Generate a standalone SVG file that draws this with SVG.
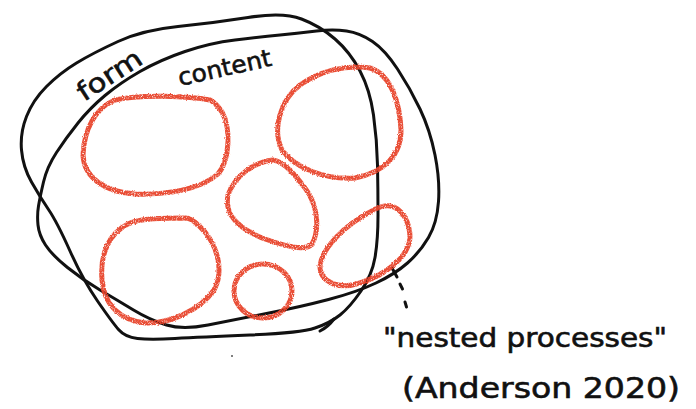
<svg xmlns="http://www.w3.org/2000/svg" width="696" height="409" viewBox="0 0 696 409">
  <style>
    .ink { fill: none; stroke: #111111; stroke-width: 3; stroke-linecap: round; stroke-linejoin: round; }
    .pencil { fill: none; stroke: #e8442b; stroke-width: 5; stroke-linecap: round; stroke-linejoin: round; opacity: 0.95; }
    .hand { font-family: "DejaVu Sans", "Liberation Sans", sans-serif; fill: #111111; stroke: #111111; stroke-width: 0.6; }
  </style>
  <defs>
    <filter id="grain" x="-5%" y="-5%" width="110%" height="110%">
      <feTurbulence type="fractalNoise" baseFrequency="0.9" numOctaves="2" seed="3" result="noise"/>
      <feDisplacementMap in="SourceGraphic" in2="noise" scale="2.5" xChannelSelector="R" yChannelSelector="G" result="rough"/>
      <feColorMatrix in="noise" type="matrix" values="0 0 0 0 0  0 0 0 0 0  0 0 0 0 0  3 0 0 0 -0.45" result="mask"/>
      <feComposite in="rough" in2="mask" operator="in"/>
    </filter>
  </defs>
  <rect width="696" height="409" fill="#ffffff"/>

  <g id="form-loop">
    <path class="ink" d="M315,328 Q300,333 250,335 Q200,337 175,338.5 Q150,340 137.5,338.5 Q125,337 118.5,329.5 Q112,322 97.5,301 Q83,280 70,251 Q57,222 48.5,209.5 Q40,197 31.5,182 Q23,167 21.5,150 Q20,133 26.5,116.5 Q33,100 46.5,86.5 Q60,73 76.5,63 Q93,53 118,41.5 Q143,30 178,26.5 Q213,23 248,17.5 Q283,12 301.5,19 Q320,26 335,39 Q350,52 360,71 Q370,90 373.5,115 Q377,140 377.5,165 Q378,190 378,215 Q378,240 375,257.5 Q372,275 361,291 Q350,307 340,315 Q330,323 315,328"/>
    <path class="ink" d="M320,331 Q328,327 334,319"/>
    <text class="hand" x="84" y="102" font-size="26" textLength="72" lengthAdjust="spacingAndGlyphs" transform="rotate(-33 84 102)">form</text>
  </g>

  <g id="content-loop">
    <path class="ink" d="M38.5,206 Q40,197 43.5,182 Q47,167 56.5,152.5 Q66,138 78,123 Q90,108 105,95.5 Q120,83 140,71.5 Q160,60 185,51.5 Q210,43 235,40 Q260,37 280,35 Q300,33 316.5,31 Q333,29 346.5,31 Q360,33 372.5,41.5 Q385,50 397.5,69 Q410,88 420,109 Q430,130 435,155 Q440,180 438.5,201.5 Q437,223 428.5,237.5 Q420,252 407.5,263 Q395,274 376,283 Q357,292 328.5,299.5 Q300,307 266.5,313.5 Q233,320 208,325 Q183,330 166.5,325 Q150,320 133.5,310 Q117,300 100,290 Q83,280 67.5,267.5 Q52,255 45.5,245 Q39,235 38,225 Q37,215 38.5,206 Z"/>
    <path class="ink" d="M392,268 L397,277"/>
    <text class="hand" x="180" y="86" font-size="24" textLength="95" lengthAdjust="spacingAndGlyphs" transform="rotate(-12.5 180 86)">content</text>
  </g>

  <g id="process-1" filter="url(#grain)">
    <path class="pencil" d="M210,100 C190,96 140,94 115,100 C95,108 84,130 83,155 C84,178 105,192 135,194 C165,195 200,190 218,174 C230,160 231,128 222,112 C218,106 214,102 210,100 Z"/>
  </g>
  <g id="process-2" filter="url(#grain)">
    <path class="pencil" d="M300,85 C318,72 345,64 370,68 C392,75 400,105 401,130 C401,155 385,172 355,178 C325,180 295,168 282,150 C272,130 280,100 300,85 Z"/>
  </g>
  <g id="process-3" filter="url(#grain)">
    <path class="pencil" d="M273,160 C255,162 235,175 228,195 C224,215 238,228 262,238 C285,246 305,252 312,244 C320,230 318,205 305,188 C295,175 285,162 273,160 Z"/>
  </g>
  <g id="process-4" filter="url(#grain)">
    <path class="pencil" d="M187,218 C165,218 140,218 128,224 C108,234 100,255 102,280 C104,305 120,320 145,323 C170,324 200,310 214,290 C224,272 218,248 205,232 C198,224 192,219 187,218 Z"/>
  </g>
  <g id="process-5" filter="url(#grain)">
    <ellipse class="pencil" cx="263" cy="291" rx="29" ry="27"/>
  </g>
  <g id="process-6" filter="url(#grain)">
    <path class="pencil" d="M390,206 C402,208 410,222 410,238 C408,258 385,275 360,283 C338,290 320,282 320,266 C322,248 345,225 370,212 C378,207 385,205 390,206 Z"/>
  </g>

  <g id="connectors">
    <path class="ink" d="M400,284 L402.5,289" stroke-width="2.6"/>
    <path class="ink" d="M405,302 L406.5,307" stroke-width="2.6"/>
  </g>

  <g id="label">
    <text class="hand" x="383" y="347" font-size="26" textLength="284" lengthAdjust="spacingAndGlyphs">"nested processes"</text>
    <text class="hand" x="402" y="398" font-size="28" textLength="278" lengthAdjust="spacingAndGlyphs">(Anderson  2020)</text>
  </g>
  <circle cx="232" cy="356" r="1" fill="#555"/>
</svg>
